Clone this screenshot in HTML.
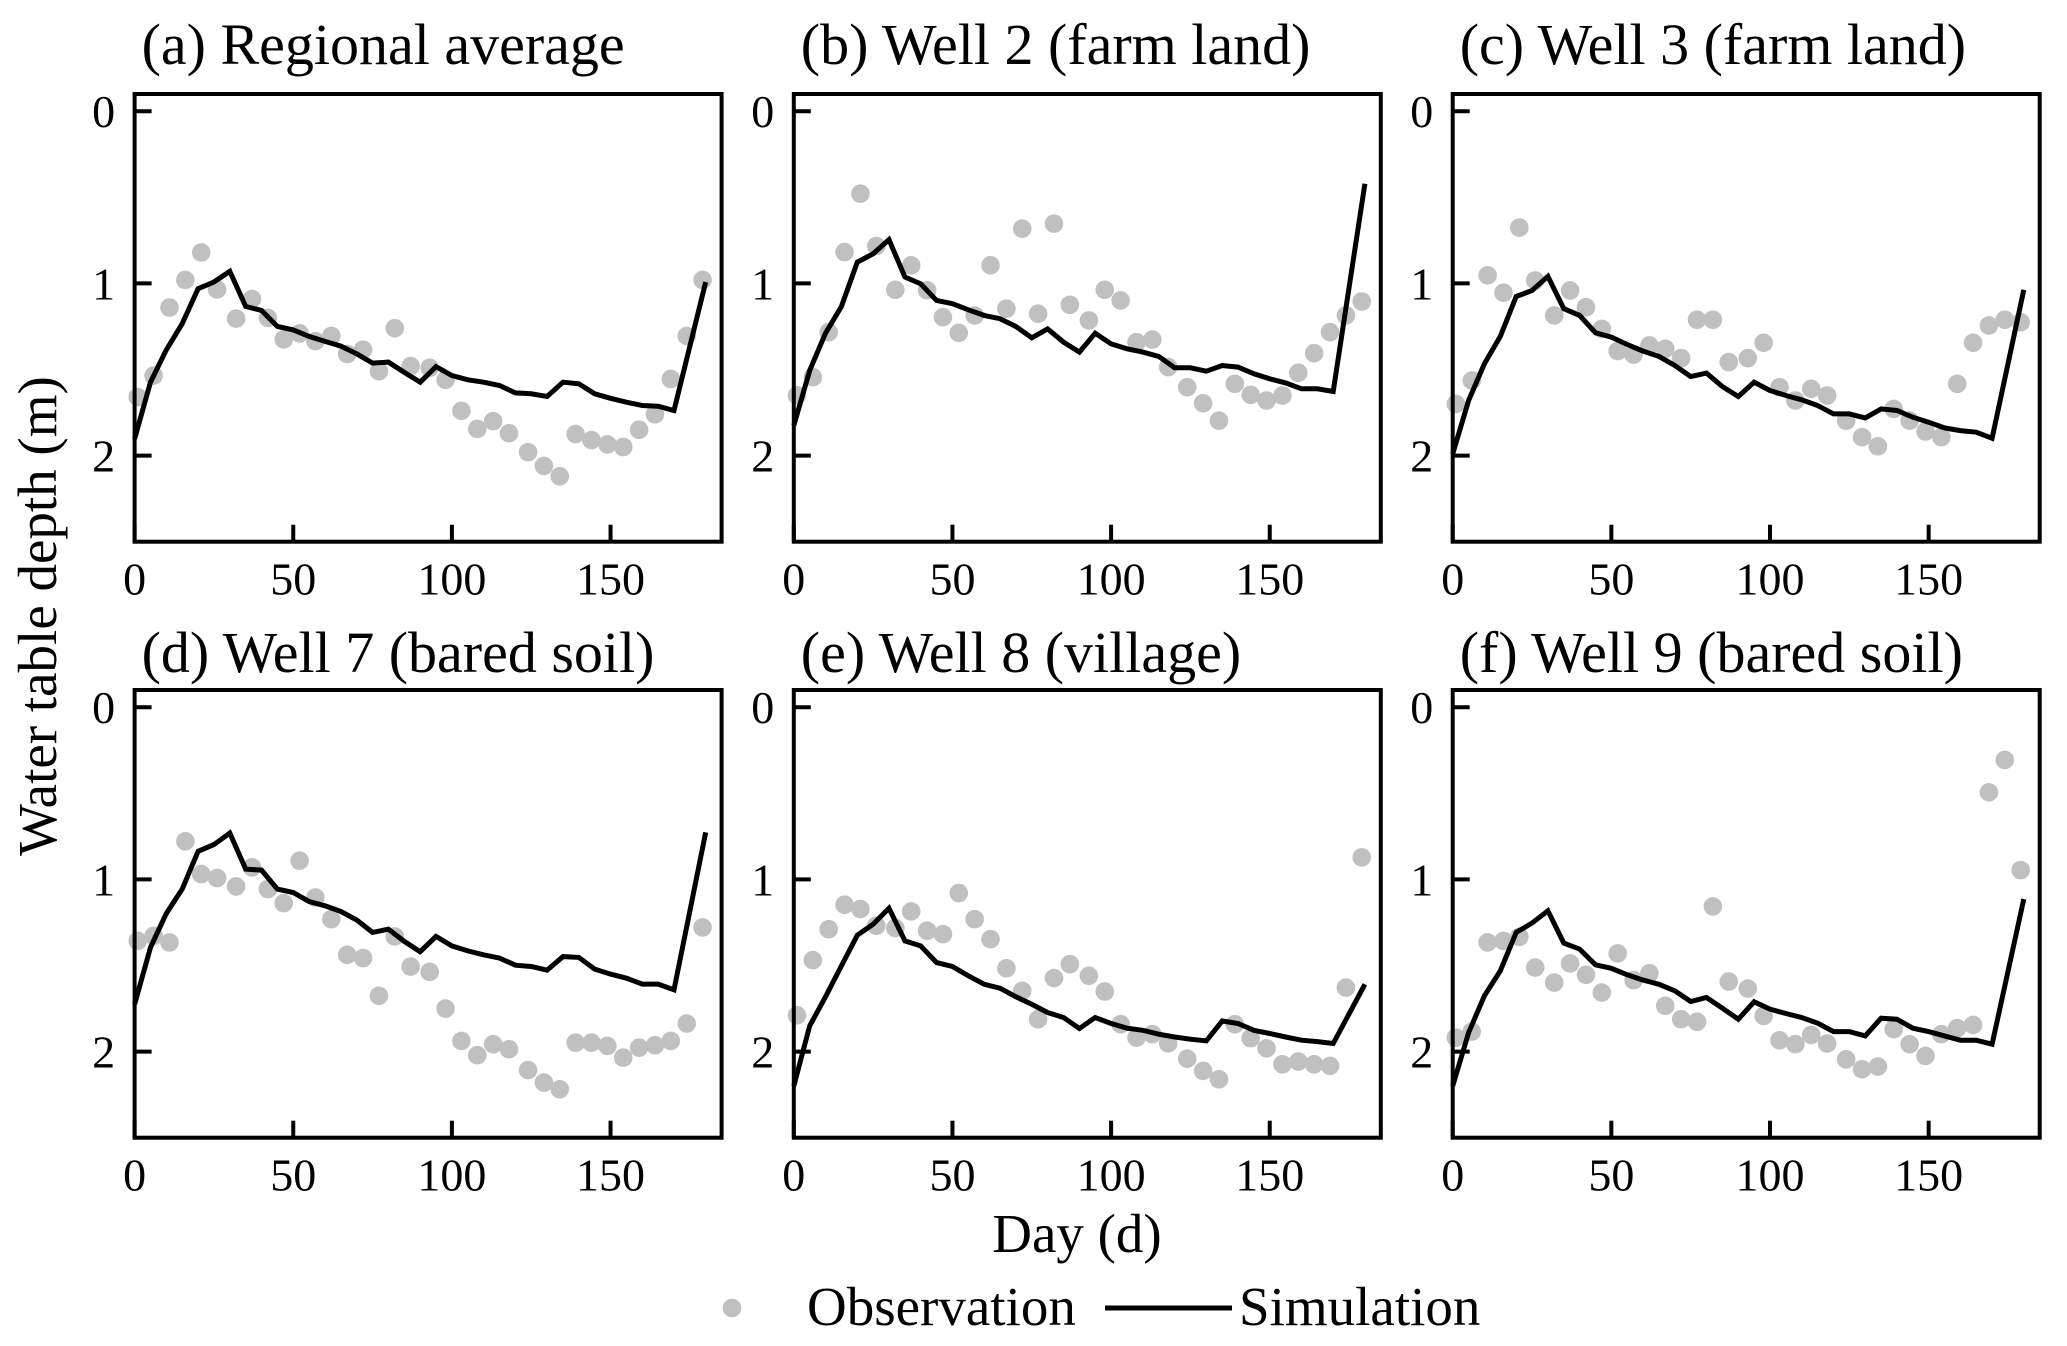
<!DOCTYPE html>
<html><head><meta charset="utf-8">
<style>
html,body{margin:0;padding:0;background:#fff;}
svg{display:block;font-family:"Liberation Serif",serif;}
</style></head>
<body>
<svg id="fig" width="2067" height="1346" viewBox="0 0 2067 1346" xmlns="http://www.w3.org/2000/svg"></svg>
<script>
const obsDays = [1,6,11,16,21,26,32,37,42,47,52,57,62,67,72,77,82,87,93,98,103,108,113,118,124,129,134,139,144,149,154,159,164,169,174,179];
const simDays = [0,5,10,15,20,25,30,35,40,45,50,55,60,65,70,75,80,85,90,95,100,105,110,115,120,125,130,135,140,145,150,155,160,165,170,180];
const xTicks = [0,50,100,150];
const yTicks = [0,1,2];
const titles = ["(a) Regional average","(b) Well 2 (farm land)","(c) Well 3 (farm land)","(d) Well 7 (bared soil)","(e) Well 8 (village)","(f) Well 9 (bared soil)"];
const obsA = [1.66,1.535,1.14,0.98,0.82,1.035,1.205,1.09,1.2,1.325,1.29,1.335,1.305,1.41,1.385,1.51,1.26,1.48,1.49,1.56,1.74,1.845,1.8,1.87,1.98,2.06,2.12,1.875,1.91,1.935,1.95,1.85,1.76,1.555,1.305,0.98];
const simA = [1.903,1.574,1.386,1.234,1.031,0.992,0.93,1.134,1.157,1.25,1.27,1.308,1.337,1.364,1.409,1.463,1.457,1.517,1.574,1.483,1.535,1.56,1.574,1.593,1.636,1.641,1.657,1.574,1.583,1.641,1.667,1.69,1.709,1.713,1.738,0.992];
const obsB = [1.65,1.545,1.283,0.818,0.479,0.783,1.037,0.895,1.04,1.196,1.287,1.186,0.895,1.147,0.682,1.176,0.653,1.124,1.215,1.037,1.099,1.341,1.326,1.486,1.603,1.696,1.797,1.583,1.647,1.68,1.651,1.519,1.405,1.283,1.186,1.105];
const simB = [1.826,1.506,1.289,1.134,0.876,0.828,0.746,0.963,1.002,1.099,1.118,1.153,1.186,1.205,1.25,1.316,1.264,1.341,1.399,1.289,1.351,1.38,1.399,1.424,1.49,1.49,1.51,1.477,1.486,1.525,1.554,1.578,1.612,1.612,1.628,0.421];
const obsC = [1.7,1.564,0.953,1.054,0.676,0.983,1.186,1.041,1.138,1.264,1.393,1.413,1.36,1.38,1.434,1.211,1.211,1.457,1.434,1.345,1.603,1.68,1.612,1.651,1.797,1.893,1.946,1.729,1.797,1.86,1.893,1.583,1.345,1.244,1.211,1.225];
const simC = [1.99,1.68,1.467,1.308,1.076,1.041,0.959,1.147,1.186,1.287,1.312,1.355,1.393,1.424,1.477,1.541,1.521,1.599,1.657,1.574,1.622,1.651,1.676,1.709,1.758,1.758,1.781,1.729,1.738,1.777,1.806,1.839,1.855,1.864,1.899,1.037];
const obsD = [1.357,1.328,1.366,0.779,0.969,0.992,1.041,0.93,1.056,1.138,0.891,1.105,1.231,1.438,1.457,1.676,1.331,1.506,1.537,1.75,1.938,2.021,1.957,1.986,2.107,2.18,2.219,1.948,1.948,1.967,2.035,1.977,1.963,1.938,1.837,1.279];
const simD = [1.725,1.395,1.198,1.056,0.837,0.798,0.731,0.94,0.946,1.056,1.076,1.128,1.153,1.186,1.236,1.308,1.289,1.36,1.42,1.331,1.386,1.415,1.438,1.457,1.498,1.506,1.527,1.448,1.453,1.521,1.55,1.574,1.608,1.608,1.641,0.727];
const obsE = [1.789,1.469,1.289,1.147,1.172,1.269,1.283,1.186,1.298,1.318,1.079,1.231,1.347,1.516,1.647,1.812,1.573,1.492,1.56,1.651,1.841,1.919,1.899,1.952,2.041,2.112,2.161,1.841,1.922,1.981,2.074,2.058,2.074,2.083,1.628,0.872];
const simE = [2.2,1.851,1.682,1.502,1.324,1.26,1.167,1.357,1.386,1.483,1.506,1.56,1.609,1.632,1.682,1.725,1.773,1.802,1.866,1.802,1.837,1.864,1.876,1.899,1.915,1.928,1.938,1.822,1.837,1.876,1.895,1.915,1.934,1.942,1.953,1.609];
const obsF = [1.919,1.884,1.366,1.357,1.333,1.512,1.599,1.488,1.554,1.657,1.43,1.585,1.545,1.734,1.812,1.827,1.157,1.593,1.634,1.793,1.934,1.957,1.903,1.953,2.045,2.103,2.087,1.87,1.957,2.025,1.899,1.864,1.845,0.494,0.306,0.946];
const simF = [2.2,1.89,1.676,1.531,1.308,1.254,1.182,1.37,1.405,1.496,1.516,1.554,1.585,1.609,1.647,1.709,1.686,1.748,1.812,1.711,1.754,1.779,1.802,1.835,1.884,1.884,1.909,1.806,1.812,1.864,1.884,1.909,1.934,1.934,1.957,1.114];

const NS = "http://www.w3.org/2000/svg";
const svg = document.getElementById('fig');
function mk(tag, attrs, parent, text){
  const e = document.createElementNS(NS, tag);
  for (const k in attrs) e.setAttribute(k, attrs[k]);
  if (text !== undefined) e.textContent = text;
  (parent||svg).appendChild(e);
  return e;
}
const obsAll = [obsA,obsB,obsC,obsD,obsE,obsF];
const simAll = [simA,simB,simC,simD,simE,simF];
const colL = [134.6, 793.8, 1452.7];
const rowT = [94, 690];
const titleOff = [30, 18];
const PW = 587, PH = 447.7;
const XMIN = 0, XMAX = 185, YMIN = -0.1, YMAX = 2.5;

for (let i = 0; i < 6; i++) {
  const r = Math.floor(i / 3);
  const L = colL[i % 3], T = rowT[r];
  const xs = d => L + (d - XMIN) / (XMAX - XMIN) * PW;
  const ys = v => T + (v - YMIN) / (YMAX - YMIN) * PH;
  const g = mk('g', {});
  
  
  const t = mk('text', {x: L + 7, y: T - titleOff[r], 'font-size': 58, fill: '#000'}, g, titles[i]);
  
  
  obsAll[i].forEach((v, j) => {
    const c = mk('circle', {cx: xs(obsDays[j]), cy: ys(v), r: 9.3, fill: '#c0c0c0'}, g);
    
    
  });
  const pts = simAll[i].map((v, j) => xs(simDays[j]).toFixed(1) + ',' + ys(v).toFixed(1)).join(' ');
  const pl = mk('polyline', {points: pts, fill: 'none', stroke: '#000', 'stroke-width': 5, 'stroke-linejoin': 'miter', 'stroke-miterlimit': 3}, g);
  
  
  const fr = mk('rect', {x: L, y: T, width: PW, height: PH, fill: 'none', stroke: '#000', 'stroke-width': 4}, g);
  
  
  xTicks.forEach(d => {
    const tk = mk('line', {x1: xs(d), x2: xs(d), y1: T + PH, y2: T + PH - 17, stroke: '#000', 'stroke-width': 4}, g);
    
    
    const tl = mk('text', {x: xs(d), y: T + PH + 53, 'font-size': 46, 'text-anchor': 'middle'}, g, String(d));
    
    
  });
  yTicks.forEach(v => {
    const tk = mk('line', {x1: L, x2: L + 17, y1: ys(v), y2: ys(v), stroke: '#000', 'stroke-width': 4}, g);
    
    
    const tl = mk('text', {x: L - 31, y: ys(v) + 16, 'font-size': 46, 'text-anchor': 'middle'}, g, String(v));
    
    
  });
}
const yl = mk('text', {x: 0, y: 0, 'font-size': 55, 'text-anchor': 'middle', transform: 'translate(56,616) rotate(-90)'}, svg, 'Water table depth (m)');


const xl = mk('text', {x: 1077, y: 1252, 'font-size': 55, 'text-anchor': 'middle'}, svg, 'Day (d)');


const lg = mk('g', {});


const ld = mk('circle', {cx: 732, cy: 1308, r: 9.3, fill: '#c0c0c0'}, lg);


const lt1 = mk('text', {x: 807, y: 1325, 'font-size': 55}, lg, 'Observation');


const ll = mk('line', {x1: 1105, x2: 1232, y1: 1308, y2: 1308, stroke: '#000', 'stroke-width': 5}, lg);


const lt2 = mk('text', {x: 1239, y: 1325, 'font-size': 55}, lg, 'Simulation');


</script>
</body></html>
